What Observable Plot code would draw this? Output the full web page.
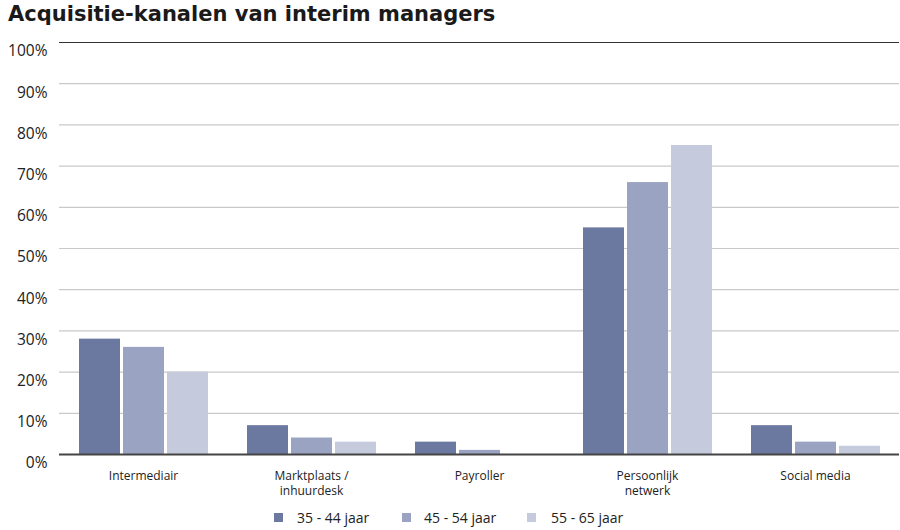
<!DOCTYPE html>
<html>
<head>
<meta charset="utf-8">
<script src="https://cdn.jsdelivr.net/npm/d3@7"></script>
<script src="https://cdn.jsdelivr.net/npm/@observablehq/plot@0.6"></script>
<style>
  html, body { margin: 0; padding: 0; background: #fff; }
  #wrap { position: relative; width: 900px; height: 530px; overflow: hidden; font-family: "Open Sans", "Liberation Sans", sans-serif; }
  #title { position: absolute; left: 8px; top: 2px; font-family: "DejaVu Sans", "Liberation Sans", Arial, sans-serif; font-weight: bold; font-size: 21px; color: #1a1a1a; }
  #chart { position: absolute; left: 0; top: 36px; }
  .lg { position: absolute; top: 508px; font-size: 14px; color: #222; line-height: 20px; }
  .sw { position: absolute; top: 513px; width: 9px; height: 9px; }
</style>
</head>
<body>
<div id="wrap">
  <div id="title">Acquisitie-kanalen van interim managers</div>
  <div id="chart"></div>
  <div id="legend"></div>
</div>
<script>
const categories = ["Intermediair", "Marktplaats / inhuurdesk", "Payroller", "Persoonlijk netwerk", "Social media"];
const categoryLabels = ["Intermediair", "Marktplaats /\ninhuurdesk", "Payroller", "Persoonlijk\nnetwerk", "Social media"];
const ageGroups = ["35 - 44 jaar", "45 - 54 jaar", "55 - 65 jaar"];
const values35_44 = [28, 7, 3, 55, 7];
const values45_54 = [26, 4, 1, 66, 3];
const values55_65 = [20, 3, 0, 75, 2];
const yTicks = [0, 10, 20, 30, 40, 50, 60, 70, 80, 90, 100];
const colors = ["#6b789f", "#9aa4c2", "#c5cadd"];

const series = [values35_44, values45_54, values55_65];
const data = [];
categories.forEach((c, i) => {
  ageGroups.forEach((a, j) => {
    data.push({category: c, age: a, value: series[j][i]});
  });
});

const plot = Plot.plot({
  width: 900,
  height: 472,
  marginTop: 6,
  marginBottom: 54,
  marginLeft: 58,
  marginRight: 0,
  style: {fontFamily: "'Open Sans', 'Liberation Sans', sans-serif", color: "#222", background: "transparent"},
  fx: {domain: categories, padding: 0, label: null, axis: null},
  x: {domain: ageGroups, paddingInner: 0.07, paddingOuter: 0.42, axis: null},
  y: {domain: [0, 100], axis: null},
  color: {domain: ageGroups, range: colors},
  marks: [
    Plot.ruleY(yTicks.filter(d => d > 0 && d < 100), {stroke: "#c9c9c9", strokeWidth: 1.2}),
    Plot.barY(data, {fx: "category", x: "age", y: "value", fill: "age"}),
    Plot.ruleY([100], {stroke: "#333", strokeWidth: 1.2}),
    Plot.ruleY([0], {stroke: "#444", strokeWidth: 1.8}),
    Plot.axisY({ticks: yTicks, tickSize: 0, tickPadding: 12, fontSize: 15.5, dy: 9, tickFormat: d => d + "%", label: null, line: true, stroke: "#222"}),
    Plot.axisFx({anchor: "bottom", tickSize: 0, tickPadding: 14, fontSize: 12, lineHeight: 1.3, label: null, tickFormat: d => categoryLabels[categories.indexOf(d)]})
  ]
});
document.getElementById("chart").appendChild(plot);

const legend = document.getElementById("legend");
const swX = [274, 402, 527];
const txX = [297, 424, 551];
ageGroups.forEach((a, j) => {
  const s = document.createElement("div");
  s.className = "sw";
  s.style.left = swX[j] + "px";
  s.style.background = colors[j];
  legend.appendChild(s);
  const t = document.createElement("div");
  t.className = "lg";
  t.style.left = txX[j] + "px";
  t.textContent = a;
  legend.appendChild(t);
});
</script>
</body>
</html>
